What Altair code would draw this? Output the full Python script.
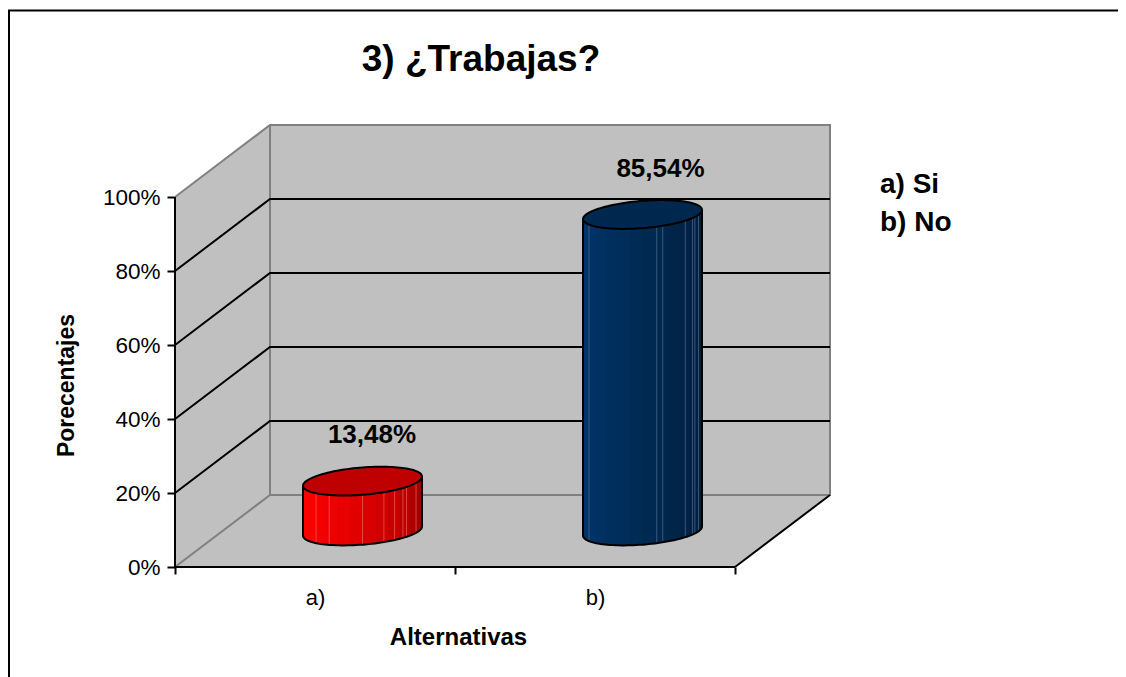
import math
import altair as alt
import pandas as pd

FONT = "Liberation Sans"
categories = ["a)", "b)"]
values = [13.48, 85.54]
value_labels = ["13,48%", "85,54%"]
legend_lines = ["a) Si", "b) No"]
grid_values = [20, 40, 60, 80]
tick_values = [0, 20, 40, 60, 80, 100]
red_shades = ["#ff0000", "#fd0000", "#fa0000", "#f50000", "#ee0000", "#e80000", "#e00000",
              "#d80000", "#cf0000", "#c60000", "#bb0000", "#ae0000", "#a20000", "#960000"]
blue_shades = ["#00356b", "#003468", "#003365", "#003161", "#002f5d", "#002d59", "#002b55",
               "#002951", "#00274d", "#002549", "#022345", "#022141", "#021f3d", "#021d39"]
top_colors = ["#bf0000", "#00284f"]
seam_fractions = [[0.11, 0.22, 0.50, 0.68, 0.77, 0.84, 0.87, 0.95],
                  [0.05, 0.62, 0.67, 0.86, 0.92, 0.94, 0.97]]
seam_colors = ["#f46060", "#4a6f96"]

# depth of the 3-D box, in axis units
DX, DY = 95 / 280, 72 / 3.7
K = 0.2                     # cylinder depth radius, as a share of box depth
RX = 59.5 / 280             # half width on screen
A = math.sqrt(RX ** 2 - (K * DX) ** 2)
X_DOM = [0, 2 + DX]
Y_DOM = [0, 100 + DY]


def curve(u):
    """Lower and upper y offsets of the tilted ellipse at x offset u."""
    s = K * DX
    qa = s * s / A ** 2 + 1
    qb = -2 * u * s / A ** 2
    qc = u * u / A ** 2 - 1
    root = math.sqrt(max(qb * qb - 4 * qa * qc, 0))
    t1, t2 = (-qb - root) / (2 * qa), (-qb + root) / (2 * qa)
    return K * DY * t1, K * DY * t2


def poly(points, group):
    return [{"x": x, "y": y, "g": group, "o": i} for i, (x, y) in enumerate(points)]


lines_rows = []
for g in grid_values:
    lines_rows += poly([(0, g), (DX, g + DY), (2 + DX, g + DY)], f"grid{g}")
black_df = pd.DataFrame(lines_rows + poly([(2, 0), (2 + DX, DY)], "edge")
                        + poly([(0, 100), (0, 0), (2, 0)], "axes"))
gray_df = pd.DataFrame(
    poly([(0, 100), (DX, 100 + DY), (2 + DX, 100 + DY), (2 + DX, DY), (DX, DY), (DX, 100 + DY)], "frame")
    + poly([(0, 0), (DX, DY)], "floor"))

left_wall = pd.DataFrame({"x": [0, DX], "y": [0, DY], "y2": [100, 100 + DY]})
floor = pd.DataFrame({"x": [0, DX, 2, 2 + DX], "y": [0, 0, 0, DY], "y2": [0, DY, DY, DY]})
back_wall = pd.DataFrame({"x": [DX, 2 + DX], "y": [DY, DY], "y2": [100 + DY, 100 + DY]})

strip_rows, top_rows, outline_rows, seam_rows = [], [], [], []
for c, (value, shades) in enumerate(zip(values, [red_shades, blue_shades])):
    cx = c + 0.5 + DX / 2
    base = DY / 2
    top = value + DY / 2
    n = len(shades)
    for i, shade in enumerate(shades):
        u0 = -RX * math.cos(math.pi * i / n)
        u1 = min(-RX * math.cos(math.pi * (i + 1) / n) + 0.004, RX)
        for j in range(5):
            u = u0 + (u1 - u0) * j / 4
            low, _ = curve(u)
            strip_rows.append({"x": cx + u, "y": base + low, "y2": top + low,
                               "g": f"{c}-{i}", "fill": shade})
    for f in seam_fractions[c]:
        u = -RX + 2 * RX * f
        low, _ = curve(u)
        seam_rows.append({"x": cx + u, "y": base + low, "y2": top + low, "stroke": seam_colors[c]})
    steps = 60
    side = []
    upper = []
    lower_top = []
    for j in range(steps + 1):
        u = -RX * math.cos(math.pi * j / steps)
        low, up = curve(u)
        top_rows.append({"x": cx + u, "y": top + low, "y2": top + up, "g": str(c), "fill": top_colors[c]})
        side.append((cx + u, base + low))
        upper.append((cx + u, top + up))
        lower_top.append((cx + u, top + low))
    outline_rows += poly(lower_top + upper[::-1], f"top{c}")
    outline_rows += poly([lower_top[0]] + side + [lower_top[-1]], f"body{c}")

x_scale = alt.Scale(domain=X_DOM, nice=False, zero=False)
y_scale = alt.Scale(domain=Y_DOM, nice=False, zero=False)
x_axis = alt.Axis(
    values=[0, 0.5, 1, 1.5, 2], grid=False, domain=False, tickColor="black", tickWidth=2, tickSize=7,
    tickOpacity={"condition": {"test": "datum.value == 0.5 || datum.value == 1.5", "value": 0}, "value": 1},
    labelExpr=f"datum.value == 0.5 ? '{categories[0]}' : datum.value == 1.5 ? '{categories[1]}' : ''",
    labelFont=FONT, labelFontSize=22, labelColor="black", labelPadding=13, labelAngle=0,
    labelFlush=False, labelOverlap=False,
    titleFont=FONT, titleFontSize=24, titleFontWeight="bold", titleColor="black",
    titleX=283, titleY=58)
y_axis = alt.Axis(
    values=tick_values, grid=False, domain=False, tickColor="black", tickWidth=2, tickSize=8,
    labelExpr="datum.value + '%'", labelFont=FONT, labelFontSize=22.5, labelColor="black", labelPadding=7,
    labelOverlap=False, labelFlush=False,
    titleFont=FONT, titleFontSize=23, titleFontWeight="bold", titleColor="black",
    titleX=-97, titleY=260)
X = alt.X("x:Q", scale=x_scale, title="Alternativas", axis=x_axis)
Y = alt.Y("y:Q", scale=y_scale, title="Porecentajes", axis=y_axis)
Y2 = alt.Y2("y2:Q")

walls = [alt.Chart(df).mark_area(color="#c0c0c0", opacity=1).encode(x=X, y=Y, y2=Y2)
         for df in (back_wall, left_wall, floor)]
gray = alt.Chart(gray_df).mark_line(color="#808080", strokeWidth=2).encode(x=X, y=Y, detail="g:N", order="o:Q")
black = alt.Chart(black_df).mark_line(color="black", strokeWidth=2).encode(x=X, y=Y, detail="g:N", order="o:Q")
strips = alt.Chart(pd.DataFrame(strip_rows)).mark_area(opacity=1).encode(
    x=X, y=Y, y2=Y2, detail="g:N", fill=alt.Fill("fill:N", scale=None))
seams = alt.Chart(pd.DataFrame(seam_rows)).mark_rule(strokeWidth=1, opacity=0.7).encode(
    x=X, y=Y, y2=Y2, stroke=alt.Stroke("stroke:N", scale=None))
tops = alt.Chart(pd.DataFrame(top_rows)).mark_area(opacity=1).encode(
    x=X, y=Y, y2=Y2, detail="g:N", fill=alt.Fill("fill:N", scale=None))
outlines = alt.Chart(pd.DataFrame(outline_rows)).mark_line(color="black", strokeWidth=2).encode(
    x=X, y=Y, detail="g:N", order="o:Q")

texts = []
for c, (value, label, shift) in enumerate(zip(values, value_labels, [9.5, 18])):
    texts.append(alt.Chart(pd.DataFrame({"x": [c + 0.5 + DX / 2], "y": [value + DY / 2], "t": [label]}))
                 .mark_text(font=FONT, fontSize=26, fontWeight="bold", color="black", dx=shift, dy=-46,
                            baseline="middle", align="center")
                 .encode(x=X, y=Y, text="t:N"))

title = alt.Chart(pd.DataFrame({"t": ["3) ¿Trabajas?"]})).mark_text(
    font=FONT, fontSize=37, fontWeight="bold", color="black", align="center", baseline="middle"
).encode(x=alt.value(306), y=alt.value(-65), text="t:N")

legend = [alt.Chart(pd.DataFrame({"t": [line]})).mark_text(
    font=FONT, fontSize=28, fontWeight="bold", color="black", align="left", baseline="middle"
).encode(x=alt.value(705), y=alt.value(offset), text="t:N") for line, offset in zip(legend_lines, [60, 98])]

border_top = alt.Chart(pd.DataFrame({"a": [0]})).mark_rule(color="black", strokeWidth=2).encode(
    x=alt.value(-167), x2=alt.value(943), y=alt.value(-114.5))
border_left = alt.Chart(pd.DataFrame({"a": [0]})).mark_rule(color="black", strokeWidth=2).encode(
    x=alt.value(-166), y=alt.value(-115), y2=alt.value(552))

chart = alt.layer(*walls, gray, black, strips, seams, tops, outlines, *texts, title, *legend,
                  border_top, border_left).properties(
    width=655, height=442, background="white",
    padding={"left": 167, "top": 117, "right": 288, "bottom": 110},
    autosize=alt.AutoSizeParams(type="none"),
).configure_view(stroke=None)

chart.save("out.html", embed_options={"renderer": "svg", "actions": False})
